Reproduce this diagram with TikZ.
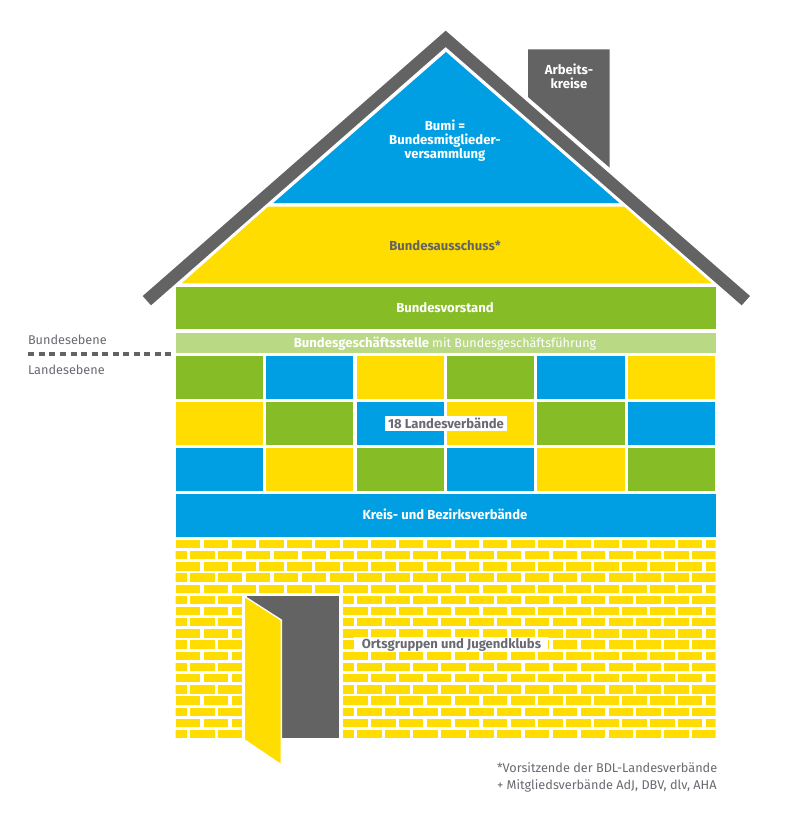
\documentclass[tikz,border=0pt]{standalone}
\usepackage{fontspec}
\setmainfont{Fira Sans}
\definecolor{hgrey}{HTML}{636363}
\definecolor{hblue}{HTML}{009FE3}
\definecolor{hyellow}{HTML}{FFDD00}
\definecolor{hgreen}{HTML}{86BC25}
\definecolor{hlight}{HTML}{B9D985}
\definecolor{htext}{HTML}{6A6A72}
\tikzset{
  blk/.style={fill=#1,draw=none},
  lbl/.style={inner sep=0pt,outer sep=0pt,anchor=base,align=center,font=\fontsize{13.1}{14}\selectfont\bfseries},
  side/.style={inner sep=0pt,outer sep=0pt,anchor=base west,text=htext,font=\fontsize{12.7}{17}\selectfont},
  mask/.style={fill=white,inner sep=0pt,outer sep=0pt,minimum height=14.6pt}
}
\begin{document}
\begin{tikzpicture}[x=1pt,y=-1pt]
\useasboundingbox (0,0) rectangle (800,824);
\fill[white] (0,0) rectangle (800,824);
% chimney
\fill[hgrey] (528,49.3) -- (609.7,49.3) -- (609.7,167.7) -- (528,97) -- cycle;
% roof
\fill[hgrey] (445.7,30.7) -- (750,296) -- (741.7,305.3) -- (445.7,47) -- (151,305.3) -- (142.7,296) -- cycle;
% gable
\fill[hblue] (446,52) -- (619.3,203) -- (273.3,203) -- cycle;
\fill[hyellow] (268.3,206.5) -- (624,206.5) -- (711.7,283.3) -- (181.7,283.3) -- cycle;
% bands
\fill[hgreen] (175.7,286.7) rectangle (715.7,329.3);
\fill[hlight] (175.7,332.7) rectangle (715.7,352.7);
% state grid
\foreach \c [count=\i from 0] in {hgreen,hblue,hyellow,hgreen,hblue,hyellow}
  \fill[blk=\c] ({175.7+90.4*\i},356) rectangle ++(87.3,42.7);
\foreach \c [count=\i from 0] in {hyellow,hgreen,hblue,hyellow,hgreen,hblue}
  \fill[blk=\c] ({175.7+90.4*\i},402.3) rectangle ++(87.3,42.5);
\foreach \c [count=\i from 0] in {hblue,hyellow,hgreen,hblue,hyellow,hgreen}
  \fill[blk=\c] ({175.7+90.4*\i},448) rectangle ++(87.3,42.7);
\fill[hblue] (175.7,494) rectangle (715.7,536.7);
% bricks
\begin{scope}
\clip (175.7,530) rectangle (715.7,745);
\foreach \r in {0,...,17}{
  \pgfmathsetmacro{\yy}{539.8+11.18*\r}
  \pgfmathsetmacro{\xo}{175.7-13.6*mod(\r,2)}
  \foreach \b in {0,...,20}
    \fill[hyellow] ({\xo+27.9*\b},\yy) rectangle ++(24.5,8.4);
}
\end{scope}
% door
\fill[white] (241.7,594) rectangle (342.7,745);
\fill[hgrey] (247,596) rectangle (339.3,738.3);
\fill[hyellow,draw=white,line width=3pt,line join=miter] (245,597.7) -- (280.5,620.5) -- (280.5,763.3) -- (245,739.3) -- cycle;
\fill[hyellow] (245,597.7) -- (280.5,620.5) -- (280.5,763.3) -- (245,739.3) -- cycle;
% labels
\node[lbl,text=white] (bumi) at (445,158.5) {Bumi =\\Bundesmitglieder-\\versammlung};
\node[lbl,text=white] (ak) at (569,88.5) {Arbeits-\\kreise};
\node[lbl,text=hgrey] (ausschuss) at (445,250.5) {Bundesausschuss*};
\node[lbl,text=white] (vorstand) at (445,312.5) {Bundesvorstand};
\node[lbl,text=white] (gs) at (445,347.5) {Bundesgeschäftsstelle {\mdseries\fontsize{12.6}{14}\selectfont mit Bundesgeschäftsführung}};
\node[mask,minimum width=121.7pt] (lvbox) at (445.9,423.2) {};
\node[lbl,text=htext] (lv) at (446,428.5) {18 Landesverbände};
\node[lbl,text=white] (kreis) at (445,519.5) {Kreis- und Bezirksverbände};
\node[mask,minimum width=194pt] (ogbox) at (451,644.4) {};
\node[lbl,text=htext] (og) at (451.5,648.5) {Ortsgruppen und Jugendklubs};
\node[side] (be) at (28,344.5) {Bundesebene};
\node[side] (le) at (28,374.5) {Landesebene};
\coordinate (da) at (28.3,354);
\coordinate (db) at (171,354);
\draw[hgrey,line width=3.4pt,dash pattern=on 6pt off 4.55pt] (da) -- (db);
\node[side,align=left] (foot) at (497,789) {*Vorsitzende der BDL-Landesverbände\\+ Mitgliedsverbände AdJ, DBV, dlv, AHA};
\end{tikzpicture}
\end{document}
